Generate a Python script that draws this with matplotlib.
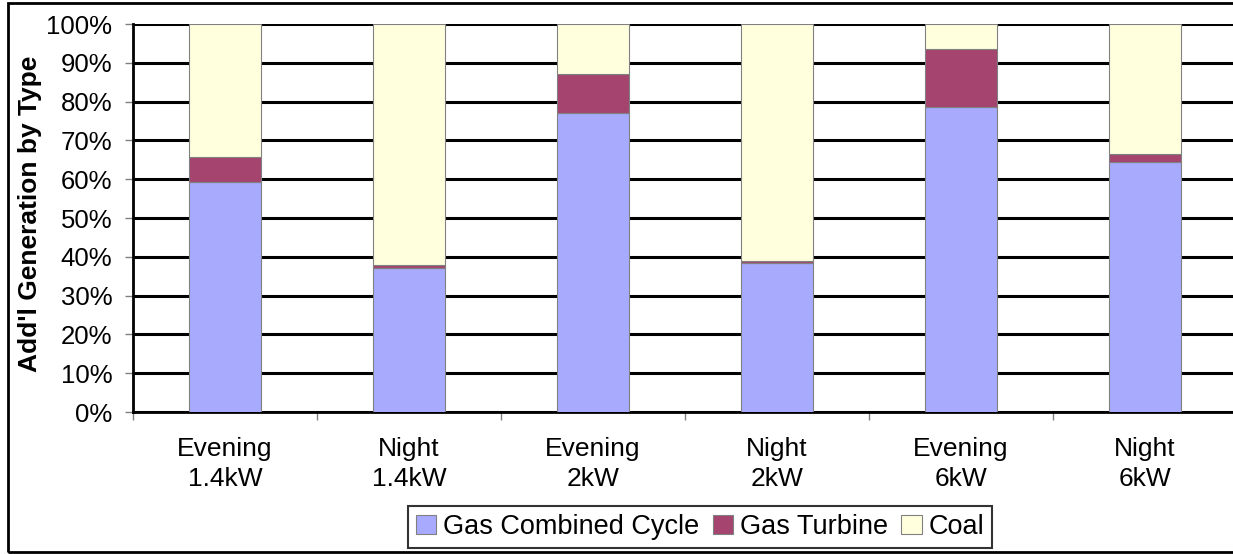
import matplotlib
matplotlib.use("Agg")
import matplotlib.pyplot as plt
from matplotlib.patches import Rectangle
import numpy as np

categories = ["Evening\n1.4kW", "Night\n1.4kW", "Evening\n2kW", "Night\n2kW", "Evening\n6kW", "Night\n6kW"]
gas_cc = [59.3, 37.1, 77.1, 38.5, 78.6, 64.4]
gas_turbine = [6.4, 0.8, 10.0, 0.5, 15.0, 2.1]
coal = [100 - a - b for a, b in zip(gas_cc, gas_turbine)]
series_names = ["Gas Combined Cycle", "Gas Turbine", "Coal"]
colors = ["#A8AAFE", "#A5446F", "#FFFFDE"]
yticks = list(range(0, 101, 10))

plt.rcParams['font.family'] = ['Liberation Sans', 'DejaVu Sans']

fig = plt.figure(figsize=(12.33, 5.54), dpi=100)
ax = fig.add_axes([133/1233, 1 - 412/554, 1104/1233, 388/554])

x = np.arange(len(categories))
w = 0.39
bottoms = np.zeros(len(categories))
for vals, name, c in zip([gas_cc, gas_turbine, coal], series_names, colors):
    ax.bar(x, vals, w, bottom=bottoms, color=c, edgecolor="#808080", linewidth=0.8,
           label=name, zorder=3)
    bottoms += np.array(vals)

ax.set_xlim(-0.5, len(categories) - 0.5)
ax.set_ylim(0, 100)
ax.set_yticks(yticks)
ax.set_yticklabels([f"{v}%" for v in yticks], fontsize=18.5)
ax.yaxis.grid(True, color="black", linewidth=2.2, zorder=0)
ax.set_axisbelow(True)

ax.set_xticks(x)
ax.set_xticklabels(categories, fontsize=19, linespacing=1.3)
ax.tick_params(axis="x", which="major", length=0, pad=18)
ax.set_xticks(np.arange(-0.5, len(categories)), minor=True)
ax.tick_params(axis="x", which="minor", length=6, width=1, color="#808080")
ax.tick_params(axis="y", length=6, width=1, color="#808080", pad=9)

for s in ["top", "right"]:
    ax.spines[s].set_visible(False)
ax.spines["left"].set_linewidth(2)
ax.spines["bottom"].set_linewidth(2)

ax.set_ylabel("Add'l Generation by Type", fontsize=19, fontweight="bold")
ax.yaxis.set_label_coords(-0.082, 0.51)

leg = ax.legend(loc="center", bbox_to_anchor=(700/1233, 1 - 527/554),
                bbox_transform=fig.transFigure, ncol=3, fontsize=19.5,
                frameon=True, fancybox=False, edgecolor="black",
                handlelength=0.75, handleheight=0.75, handletextpad=0.25,
                columnspacing=0.5, borderpad=0.3, borderaxespad=0)
leg.get_frame().set_linewidth(1.5)

fig.patches.append(Rectangle((8/1233, 1 - 552/554), 1.5, 549/554, transform=fig.transFigure,
                             fill=False, edgecolor="black", linewidth=2))

fig.savefig("out.png", dpi=100)
